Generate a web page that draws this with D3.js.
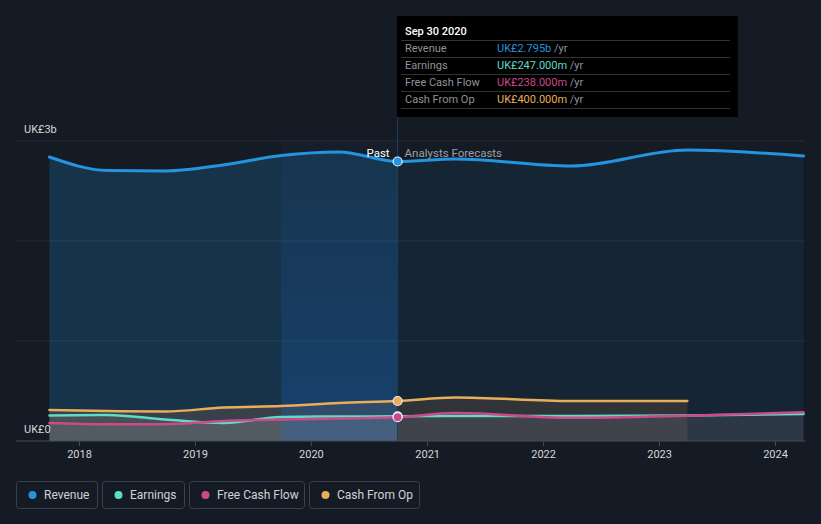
<!DOCTYPE html>
<html>
<head>
<meta charset="utf-8">
<script src="https://cdn.jsdelivr.net/npm/d3@7"></script>
<style>
  body { margin: 0; background: #151b24; }
  svg { display: block; font-family: Roboto, "Open Sans", sans-serif; }
</style>
</head>
<body>
<svg id="chart" width="821" height="524"></svg>
<script>
// data, values in UK£ billions
const pastDates = ['2017-09-30', '2018-03-31', '2018-09-30', '2019-03-31', '2019-09-30', '2020-03-31', '2020-09-30'];
const forecastDates = ['2020-09-30', '2021-03-31', '2022-03-31', '2023-03-31', '2024-03-31'];

const revenuePast = [2.84, 2.705, 2.70, 2.76, 2.855, 2.89, 2.795];
const revenueForecast = [2.795, 2.82, 2.75, 2.91, 2.85];
const earningsPast = [0.255, 0.26, 0.215, 0.18, 0.24, 0.245, 0.247];
const earningsForecast = [0.247, 0.25, 0.25, 0.255, 0.27];
const fcfPast = [0.18, 0.168, 0.168, 0.20, 0.215, 0.225, 0.238];
const fcfForecast = [0.238, 0.28, 0.232, 0.253, 0.287];
const cashOpPast = [0.31, 0.30, 0.295, 0.335, 0.35, 0.38, 0.40];
const cashOpForecast = [0.40, 0.435, 0.40, 0.40];

const yTicks = [0, 1, 2, 3];
const yTickLabels = { 0: 'UK£0', 3: 'UK£3b' };

const series = [
  { name: 'Revenue', color: '#2394df', past: revenuePast, forecast: revenueForecast, value: 'UK£2.795b' },
  { name: 'Earnings', color: '#5fdcc6', past: earningsPast, forecast: earningsForecast, value: 'UK£247.000m' },
  { name: 'Free Cash Flow', color: '#cc4a89', past: fcfPast, forecast: fcfForecast, value: 'UK£238.000m' },
  { name: 'Cash From Op', color: '#e8ae5a', past: cashOpPast, forecast: cashOpForecast, value: 'UK£400.000m' },
];

const svg = d3.select('#chart');
const parse = d3.timeParse('%Y-%m-%d');
const cs = {
  left: 16, right: 805, top: 141, bottom: 441,
  grid: '#262d37', axis: '#454c57', text: '#d6d6d6',
};

const x = d3.scaleTime()
  .domain([new Date(2018, 0, 1), new Date(2024, 0, 1)])
  .range([79, 775]);
const y = d3.scaleLinear().domain([0, 3]).range([cs.bottom, cs.top]);

const toPoints = (dates, vals) => vals.map((v, i) => ({ date: parse(dates[i]), v }));
series.forEach(s => {
  s.pastPts = toPoints(pastDates, s.past);
  s.forePts = toPoints(forecastDates, s.forecast);
  s.allPts = s.pastPts.concat(s.forePts.slice(1));
});

const splitDate = parse('2020-09-30');
const hlStart = parse('2019-09-30');
const xSplit = x(splitDate);

const defs = svg.append('defs');
defs.append('clipPath').attr('id', 'clipPast')
  .append('rect').attr('x', 0).attr('y', 0).attr('width', xSplit).attr('height', 524);
defs.append('clipPath').attr('id', 'clipFore')
  .append('rect').attr('x', xSplit).attr('y', 0).attr('width', 821 - xSplit).attr('height', 524);
const hl = defs.append('linearGradient').attr('id', 'hlGrad')
  .attr('x1', 0).attr('y1', 0).attr('x2', 0).attr('y2', 1);
hl.append('stop').attr('offset', '0%').attr('stop-color', '#1a6ad6').attr('stop-opacity', 0.03);
hl.append('stop').attr('offset', '100%').attr('stop-color', '#1a6ad6').attr('stop-opacity', 0.26);

// gridlines
svg.append('g').selectAll('line').data(yTicks.filter(t => t > 0)).join('line')
  .attr('x1', cs.left).attr('x2', cs.right)
  .attr('y1', d => y(d)).attr('y2', d => y(d))
  .attr('stroke', cs.grid).attr('stroke-width', 1);

const line = d3.line().x(d => x(d.date)).y(d => y(d.v)).curve(d3.curveMonotoneX);
const area = d3.area().x(d => x(d.date)).y0(y(0)).y1(d => y(d.v)).curve(d3.curveMonotoneX);

// revenue area
const rev = series[0];
svg.append('path').attr('d', area(rev.allPts)).attr('clip-path', 'url(#clipPast)')
  .attr('fill', rev.color).attr('fill-opacity', 0.2);
svg.append('path').attr('d', area(rev.allPts)).attr('clip-path', 'url(#clipFore)')
  .attr('fill', rev.color).attr('fill-opacity', 0.09);

// lower series areas
const cop = series[3];
svg.append('path').attr('d', area(cop.allPts)).attr('clip-path', 'url(#clipPast)')
  .attr('fill', '#41454a').attr('fill-opacity', 0.8);
svg.append('path').attr('d', area(cop.allPts)).attr('clip-path', 'url(#clipFore)')
  .attr('fill', '#35373a').attr('fill-opacity', 0.85);
[series[1], series[2]].forEach(s => {
  svg.append('path').attr('d', area(s.allPts)).attr('clip-path', 'url(#clipPast)')
    .attr('fill', '#8a8e96').attr('fill-opacity', 0.19);
  svg.append('path').attr('d', area(s.allPts)).attr('clip-path', 'url(#clipFore)')
    .attr('fill', '#6f727c').attr('fill-opacity', 0.14);
});

// highlight band for the last past year
svg.append('rect')
  .attr('x', x(hlStart)).attr('y', cs.top)
  .attr('width', xSplit - x(hlStart)).attr('height', cs.bottom - cs.top)
  .attr('fill', 'url(#hlGrad)');

// lines, drawn back to front
[series[3], series[1], series[2], series[0]].forEach(s => {
  svg.append('path').attr('d', line(s.allPts))
    .attr('fill', 'none').attr('stroke', s.color)
    .attr('stroke-width', s === rev ? 3 : 2.5).attr('stroke-linecap', 'round');
});

// divider line
svg.append('line').attr('x1', xSplit).attr('x2', xSplit).attr('y1', 116).attr('y2', cs.bottom)
  .attr('stroke', '#1f3d60').attr('stroke-width', 1);

// markers at the split
[series[3], series[1], series[2], series[0]].forEach(s => {
  svg.append('circle').attr('cx', xSplit).attr('cy', y(s.forecast[0])).attr('r', 4.5)
    .attr('fill', s.color).attr('stroke', '#e6eef6').attr('stroke-width', 1.2);
});

// x axis
svg.append('line').attr('x1', cs.left).attr('x2', cs.right).attr('y1', cs.bottom).attr('y2', cs.bottom)
  .attr('stroke', cs.axis).attr('stroke-width', 1);
const xAxis = d3.axisBottom(x).ticks(d3.timeYear.every(1)).tickFormat(d3.timeFormat('%Y')).tickSize(5).tickPadding(4);
const gx = svg.append('g').attr('transform', `translate(0,${cs.bottom})`).call(xAxis);
gx.select('.domain').remove();
gx.selectAll('line').attr('stroke', cs.axis);
gx.selectAll('text').attr('fill', cs.text).attr('font-size', 11).attr('font-family', 'Roboto, sans-serif');

// y labels
svg.append('g').selectAll('text').data(yTicks.filter(t => yTickLabels[t])).join('text')
  .attr('x', 24).attr('y', d => y(d) - 8)
  .attr('fill', cs.text).attr('font-size', 11)
  .text(d => yTickLabels[d]);

// past / forecast labels
svg.append('text').attr('x', xSplit - 8).attr('y', 157).attr('text-anchor', 'end')
  .attr('fill', '#ffffff').attr('font-size', 11.5).text('Past');
svg.append('text').attr('x', xSplit + 7).attr('y', 157)
  .attr('fill', '#9aa0a8').attr('font-size', 11.5).text('Analysts Forecasts');

// tooltip
const tip = svg.append('g');
tip.append('rect').attr('x', 397).attr('y', 16).attr('width', 341).attr('height', 101).attr('fill', '#000');
tip.append('text').attr('x', 405).attr('y', 35).attr('fill', '#fff').attr('font-size', 11)
  .attr('font-weight', 500).text('Sep 30 2020');
tip.selectAll('line.sep').data(d3.range(5)).join('line')
  .attr('x1', 401).attr('x2', 730)
  .attr('y1', i => 40.5 + i * 17).attr('y2', i => 40.5 + i * 17)
  .attr('stroke', '#333').attr('stroke-width', 1);
series.forEach((s, i) => {
  const ty = 52 + i * 17;
  tip.append('text').attr('x', 405).attr('y', ty).attr('fill', '#8f949b').attr('font-size', 11).text(s.name);
  const t = tip.append('text').attr('x', 497).attr('y', ty).attr('font-size', 11);
  t.append('tspan').attr('fill', s.color).text(s.value);
  t.append('tspan').attr('fill', '#8f949b').text(' /yr');
});

// legend
const legendX = [16, 102, 189, 309];
const legendW = [81, 82, 115, 110];
const lg = svg.append('g');
series.forEach((s, i) => {
  const g = lg.append('g').attr('transform', `translate(${legendX[i]},481)`);
  g.append('rect').attr('x', 0.5).attr('y', 0.5).attr('width', legendW[i]).attr('height', 27).attr('rx', 3)
    .attr('fill', 'none').attr('stroke', '#3a414c');
  g.append('circle').attr('cx', 16.5).attr('cy', 14).attr('r', 4).attr('fill', s.color);
  g.append('text').attr('x', 28).attr('y', 18).attr('fill', '#cfd3d8').attr('font-size', 12).text(s.name);
});
</script>
</body>
</html>
